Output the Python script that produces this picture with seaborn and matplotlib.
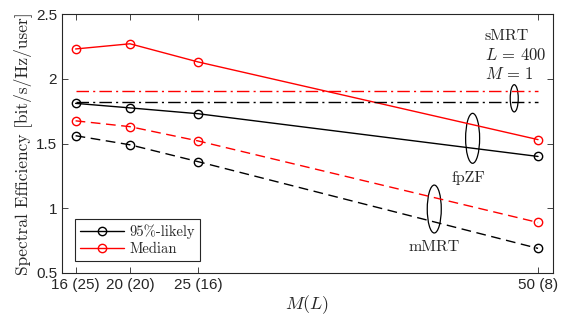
import matplotlib
matplotlib.use("Agg")
import matplotlib.pyplot as plt
from matplotlib.patches import Ellipse
from matplotlib.lines import Line2D
import seaborn as sns
import pandas as pd

M_values = [16, 20, 25, 50]
tick_labels = ["16 (25)", "20 (20)", "25 (16)", "50 (8)"]
fpzf_median = [2.23, 2.27, 2.13, 1.53]
fpzf_95 = [1.81, 1.775, 1.73, 1.40]
mmrt_median = [1.675, 1.63, 1.52, 0.89]
mmrt_95 = [1.56, 1.49, 1.36, 0.69]
smrt_median = [1.908, 1.908, 1.908, 1.908]
smrt_95 = [1.823, 1.823, 1.823, 1.823]

sns.set_theme(style="white")
plt.rcParams["font.family"] = ["Liberation Sans", "DejaVu Sans"]
plt.rcParams["mathtext.fontset"] = "cm"
plt.rcParams["axes.formatter.use_mathtext"] = True

fig = plt.figure(figsize=(5.61, 3.23), dpi=100)
ax = fig.add_axes([62 / 561, 50 / 323, 491 / 561, 259 / 323])

dark = "#262626"
red = "#ff0000"
black = "#000000"
dash = (0, (7, 4))
dashdot = (0, (9, 3, 1.5, 3))

series = [
    (fpzf_median, red, "-", True),
    (fpzf_95, black, "-", True),
    (mmrt_median, red, dash, True),
    (mmrt_95, black, dash, True),
    (smrt_median, red, dashdot, False),
    (smrt_95, black, dashdot, False),
]
for vals, col, ls, mk in series:
    df = pd.DataFrame({"M": M_values, "SE": vals})
    kw = dict(marker="o", markersize=6, markerfacecolor="none",
              markeredgecolor=col, markeredgewidth=1.0) if mk else {}
    sns.lineplot(data=df, x="M", y="SE", color=col, linestyle=ls,
                 linewidth=1.0, ax=ax, **kw)

ax.set_xlim(15, 51.1)
ax.set_ylim(0.5, 2.5)
ax.set_xticks(M_values)
ax.set_xticklabels(tick_labels)
ax.set_yticks([0.5, 1, 1.5, 2, 2.5])
ax.set_yticklabels(["0.5", "1", "1.5", "2", "2.5"])
ax.tick_params(direction="in", length=4, width=0.6, colors=dark,
               labelsize=11, top=True, right=True, bottom=True, left=True,
               labelcolor=dark)
for s in ax.spines.values():
    s.set_color(dark)
    s.set_linewidth(0.8)

ax.set_xlabel(r"$M(L)$", fontsize=13, color=dark, labelpad=1)
ax.set_ylabel("Spectral Efficiency [bit/s/Hz/user]", fontfamily="cmr10",
              fontsize=12.5, color=dark, labelpad=3)

# ellipses
for (cx, cy, w, h) in [(48.25, 1.849, 0.59, 0.21), (45.19, 1.54, 1.03, 0.386),
                       (42.37, 0.994, 1.03, 0.37)]:
    ax.add_patch(Ellipse((cx, cy), w, h, fill=False, edgecolor=black, linewidth=0.9))

ax.text(46.1, 2.33, "sMRT", fontfamily="cmr10", fontsize=11.5, color=dark, va="center", ha="left")
ax.text(46.1, 2.183, r"$L\,=\,400$", fontsize=12, color=dark, va="center", ha="left")
ax.text(46.1, 2.037, r"$M\,=\,1$", fontsize=12, color=dark, va="center", ha="left")
ax.text(44.87, 1.231, "fpZF", fontfamily="cmr10", fontsize=11.5, color=dark, va="center", ha="center")
ax.text(42.34, 0.703, "mMRT", fontfamily="cmr10", fontsize=11.5, color=dark, va="center", ha="center")

handles = [
    Line2D([], [], color=black, lw=1.0, marker="o", markersize=6, markerfacecolor="none", markeredgecolor=black),
    Line2D([], [], color=red, lw=1.0, marker="o", markersize=6, markerfacecolor="none", markeredgecolor=red),
]
leg = ax.legend(handles, ["95%-likely", "Median"], loc="lower left",
                bbox_to_anchor=(0.026, 0.045), prop={"family": "cmr10", "size": 10.5},
                fancybox=False, framealpha=1, edgecolor=dark, borderpad=0.35,
                handlelength=3.0, handletextpad=0.4, labelspacing=0.25, borderaxespad=0)
leg.get_frame().set_linewidth(0.8)

fig.savefig("out.png", dpi=100)
